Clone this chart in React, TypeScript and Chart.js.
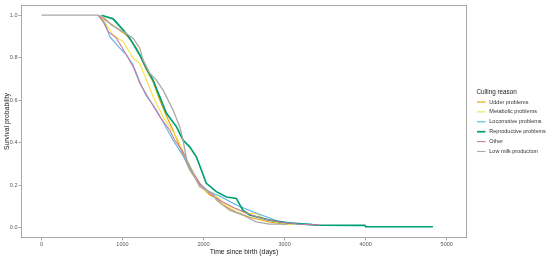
import { useEffect, useRef } from "react";
import { Chart, registerables } from "chart.js";

Chart.register(...registerables);

const seriesNames = [
  "Udder problems",
  "Metabolic problems",
  "Locomotive problems",
  "Reproductive problems",
  "Other",
  "Low milk production",
];
const seriesColors = ["#E69F00", "#F0E442", "#56B4E9", "#009E73", "#CC79A7", "#A8A8A8"];
const seriesWidths = [1.1, 1.1, 1.1, 1.7, 1.1, 1.3];

const udderT = [700, 844, 1049, 1172, 1296, 1377, 1459, 1542, 1623, 1706, 1829, 1952, 2075, 2158, 2239, 2404, 2568, 2814, 2999, 3050];
const udderS = [1.0, 0.962, 0.907, 0.845, 0.742, 0.686, 0.601, 0.526, 0.46, 0.381, 0.272, 0.201, 0.154, 0.14, 0.107, 0.074, 0.05, 0.027, 0.017, 0.017];

const metabolicT = [700, 760, 884, 1007, 1131, 1213, 1296, 1377, 1500, 1623, 1685, 1767, 1890, 2013, 2198, 2239, 2527, 2650, 2728, 2875, 3060, 3100];
const metabolicS = [1.0, 0.978, 0.907, 0.876, 0.798, 0.774, 0.695, 0.617, 0.523, 0.452, 0.413, 0.342, 0.248, 0.177, 0.138, 0.115, 0.068, 0.068, 0.046, 0.027, 0.017, 0.013];

const locomotiveT = [700, 782, 844, 967, 1049, 1131, 1213, 1287, 1419, 1521, 1623, 1742, 1853, 1952, 2075, 2198, 2404, 2608, 2773, 2937, 3122, 3343];
const locomotiveS = [1.0, 0.962, 0.899, 0.845, 0.813, 0.766, 0.687, 0.625, 0.554, 0.484, 0.413, 0.342, 0.262, 0.206, 0.168, 0.15, 0.107, 0.075, 0.052, 0.028, 0.022, 0.017];

const reproductiveT = [741, 884, 1007, 1090, 1213, 1296, 1377, 1459, 1542, 1665, 1746, 1829, 1911, 1973, 2034, 2158, 2281, 2404, 2485, 2568, 2814, 3060, 3400, 3990, 4000, 4830];
const reproductiveS = [1.0, 0.983, 0.931, 0.892, 0.813, 0.75, 0.695, 0.617, 0.539, 0.476, 0.413, 0.381, 0.334, 0.272, 0.209, 0.17, 0.145, 0.138, 0.083, 0.06, 0.036, 0.022, 0.013, 0.011, 0.005, 0.005];

const otherT = [700, 760, 823, 926, 1049, 1131, 1213, 1336, 1459, 1582, 1644, 1746, 1829, 1952, 2075, 2198, 2383, 2568, 2752, 2937, 3183, 3442];
const otherS = [1.0, 0.97, 0.923, 0.892, 0.813, 0.758, 0.68, 0.601, 0.523, 0.46, 0.413, 0.358, 0.287, 0.209, 0.162, 0.13, 0.093, 0.064, 0.041, 0.027, 0.017, 0.013];

const lowMilkT = [0, 683, 757, 865, 1007, 1131, 1213, 1254, 1336, 1419, 1500, 1542, 1623, 1706, 1746, 1792, 1952, 2116, 2158, 2321, 2485, 2650, 2814, 3030];
const lowMilkS = [1.0, 1.0, 0.993, 0.954, 0.923, 0.892, 0.845, 0.79, 0.727, 0.695, 0.648, 0.617, 0.554, 0.476, 0.413, 0.319, 0.193, 0.162, 0.13, 0.083, 0.06, 0.028, 0.017, 0.017];

const allT = [udderT, metabolicT, locomotiveT, reproductiveT, otherT, lowMilkT];
const allS = [udderS, metabolicS, locomotiveS, reproductiveS, otherS, lowMilkS];

const xTicks = [0, 1000, 2000, 3000, 4000, 5000];
const yTicks = [0, 0.2, 0.4, 0.6, 0.8, 1.0];

const xTitle = "Time since birth (days)";
const yTitle = "Survival probability";
const legendTitle = "Culling reason";

const FONT = "'Liberation Sans', Arial, sans-serif";

const decorPlugin = {
  id: "decor",
  afterDraw(chart: any) {
    const { ctx, chartArea } = chart;
    ctx.save();
    ctx.strokeStyle = "#A9A9A9";
    ctx.lineWidth = 1;
    ctx.strokeRect(chartArea.left + 0.5, chartArea.top + 0.5, chartArea.right - chartArea.left - 1, chartArea.bottom - chartArea.top - 1);
    ctx.fillStyle = "#222";
    ctx.font = `6.8px ${FONT}`;
    ctx.textAlign = "center";
    ctx.textBaseline = "middle";
    ctx.fillText(xTitle, (chartArea.left + chartArea.right) / 2, 252);
    ctx.save();
    ctx.translate(7, (chartArea.top + chartArea.bottom) / 2);
    ctx.rotate(-Math.PI / 2);
    ctx.fillText(yTitle, 0, 0);
    ctx.restore();
    ctx.textAlign = "left";
    ctx.font = `6.3px ${FONT}`;
    ctx.fillStyle = "#222";
    ctx.fillText(legendTitle, 476.5, 92.7);
    ctx.font = `5.5px ${FONT}`;
    seriesNames.forEach((name, i) => {
      const y = 102 + i * 9.9;
      ctx.strokeStyle = seriesColors[i];
      ctx.lineWidth = i === 3 ? 1.7 : 1.1;
      ctx.beginPath();
      ctx.moveTo(477, y);
      ctx.lineTo(485.5, y);
      ctx.stroke();
      ctx.fillStyle = "#333";
      ctx.fillText(name, 489.3, y);
    });
    ctx.restore();
  },
};

export default function App() {
  const ref = useRef<HTMLCanvasElement | null>(null);
  useEffect(() => {
    if (!ref.current) return;
    const datasets = seriesNames.map((name, i) => ({
      label: name,
      data: allT[i].map((t, j) => ({ x: t, y: allS[i][j] })),
      borderColor: seriesColors[i],
      backgroundColor: seriesColors[i],
      borderWidth: seriesWidths[i],
      pointRadius: 0,
      tension: 0,
      fill: false,
      order: seriesNames.length - i,
    }));
    const chart = new Chart(ref.current, {
      type: "line",
      data: { datasets },
      plugins: [decorPlugin],
      options: {
        animation: false,
        responsive: false,
        devicePixelRatio: 1,
        parsing: false,
        layout: { padding: { top: 5, right: 83, left: 0, bottom: 0 } },
        plugins: { legend: { display: false }, tooltip: { enabled: false } },
        scales: {
          x: {
            type: "linear",
            min: -252,
            max: 5250,
            afterBuildTicks: (s: any) => {
              s.ticks = xTicks.map((v) => ({ value: v }));
            },
            afterFit: (s: any) => {
              s.height = 21;
            },
            ticks: {
              font: { family: FONT, size: 5.5 },
              color: "#555",
              padding: 1,
              maxRotation: 0,
              autoSkip: false,
              callback: (v: any) => String(v),
            },
            grid: { display: true, drawOnChartArea: false, drawTicks: true, tickLength: 2.5, color: "#A9A9A9" },
            border: { display: false },
          },
          y: {
            type: "linear",
            min: -0.048,
            max: 1.048,
            afterBuildTicks: (s: any) => {
              s.ticks = yTicks.map((v) => ({ value: v }));
            },
            afterFit: (s: any) => {
              s.width = 21;
            },
            ticks: {
              font: { family: FONT, size: 5.5 },
              color: "#555",
              padding: 1,
              autoSkip: false,
              callback: (v: any) => Number(v).toFixed(1),
            },
            grid: { display: true, drawOnChartArea: false, drawTicks: true, tickLength: 2.5, color: "#A9A9A9" },
            border: { display: false },
          },
        },
      },
    });
    return () => chart.destroy();
  }, []);
  return (
    <div style={{ position: "absolute", left: 0, top: 0, width: 550, height: 259, background: "#fff" }}>
      <canvas ref={ref} width={550} height={259} style={{ width: 550, height: 259 }} />
    </div>
  );
}
